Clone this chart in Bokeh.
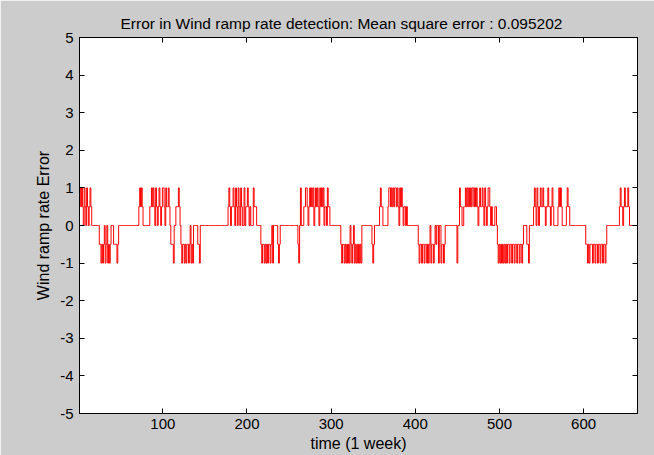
from bokeh.plotting import figure
from bokeh.models import LinearAxis, FixedTicker, Range1d
from bokeh.embed import file_html
from bokeh.resources import INLINE

title_text = "Error in Wind ramp rate detection: Mean square error : 0.095202"
x_label = "time (1 week)"
y_label = "Wind ramp rate Error"
x_ticks = [100, 200, 300, 400, 500, 600]
y_ticks = [-5, -4, -3, -2, -1, 0, 1, 2, 3, 4, 5]

error = [
    0.5, 1, 0.5, 1, 0.5, 0, 1, 0.5, 0, 1,
    0.5, 0, 0.5, 1, 0.5, 0, 0, 0, 0, 0,
    0, 0, 0, 0, -0.5, -0.5, -1, -0.5, -1, -0.5,
    0, -1, -0.5, 0, -1, -0.5, -1, -0.5, 0, 0,
    0, -0.5, -0.5, -0.5, -0.5, -1, -0.5, 0, 0, 0,
    0, 0, 0, 0, 0, 0, 0, 0, 0, 0,
    0, 0, 0, 0, 0, 0, 0, 0, 0, 0,
    0, 0.5, 1, 0.5, 1, 0.5, 0, 0, 0, 0,
    0, 0, 0, 0, 0.5, 0.5, 1, 0.5, 1, 0.5,
    0, 1, 0.5, 0, 0.5, 1, 0.5, 0, 0.5, 1,
    1, 0.5, 0, 1, 0.5, 0.5, 1, 0.5, 0, -0.5,
    -0.5, -0.5, -1, 0, 0, 0.5, 0.5, 0.5, 1, 0.5,
    0, -0.5, -1, -0.5, -0.5, -1, -0.5, -1, -0.5, -0.5,
    -1, -0.5, 0, -1, -0.5, -1, 0, 0, 0, 0,
    0, -0.5, -0.5, -1, 0, 0, 0, 0, 0, 0,
    0, 0, 0, 0, 0, 0, 0, 0, 0, 0,
    0, 0, 0, 0, 0, 0, 0, 0, 0, 0,
    0, 0, 0, 0, 0, 0, 0, 0.5, 1, 0.5,
    0, 0.5, 0.5, 1, 0.5, 0, 1, 0.5, 0, 1,
    0.5, 0, 1, 0.5, 0, 0, 1, 0, 0.5, 0.5,
    1, 0.5, 0, 0.5, 0, 0, 0, 1, 0.5, 0.5,
    0.5, 0, 0, 0, 0, 0, -0.5, -1, -0.5, -0.5,
    -1, -0.5, -1, -0.5, -1, -0.5, -0.5, -1, -0.5, 0,
    -1, 0, 0, 0, 0, 0, -0.5, -1, -0.5, 0,
    0, 0, 0, 0, 0, 0, 0, 0, 0, 0,
    0, 0, 0, 0, 0, 0, 0, 0, 0, 0,
    -0.5, -1, 0, 1, 0, 0, 0, 0.5, 0.5, 1,
    1, 0.5, 0, 0.5, 1, 0.5, 1, 0.5, 1, 0,
    0.5, 1, 0.5, 1, 0.5, 0, 1, 0.5, 1, 0.5,
    1, 0, 0.5, 0.5, 0, 1, 0.5, 0.5, 0, 0,
    0, 0, 0, 0, 0, 0, 0, 0, 0, 0,
    0, -0.5, -1, -0.5, -0.5, -1, -0.5, -1, -0.5, -1,
    -0.5, -1, 0, -0.5, -1, -0.5, 0, -1, -0.5, -1,
    -0.5, -1, -0.5, -1, -0.5, -1, 0, 0, 0, 0,
    0, 0, 0, 0, 0, 0, 0, 0, -0.5, -1,
    -0.5, 0, 0, 0, 0, 0, 0, 0.5, 1, 0.5,
    0.5, 0, 0, 0, 0, 0, 0, 0.5, 1, 1,
    0.5, 1, 0.5, 1, 0.5, 1, 1, 0.5, 1, 0.5,
    0, 1, 0.5, 1, 0.5, 0, 0.5, 0.5, 0, 0.5,
    0, 0, 0, 0, 0, 0, 0, 0, 0, 0,
    0, 0, 0, -0.5, -1, -0.5, -0.5, -1, -0.5, -0.5,
    -1, -0.5, -0.5, -1, -0.5, -1, -0.5, 0, -1, -0.5,
    -0.5, -1, -0.5, 0, -0.5, 0, 0, -1, 0, 0,
    -1, -0.5, -0.5, -1, -0.5, 0, 0, 0, 0, 0,
    0, 0, 0, 0, 0, 0, 0, 0, 0, -1,
    0, 0, 1, 0.5, 0.5, 0, 0, 0.5, 0.5, 1,
    0.5, 1, 0.5, 1, 0.5, 1, 0.5, 1, 1, 0.5,
    1, 0.5, 1, 0.5, 0, 0.5, 1, 0.5, 0.5, 1,
    0.5, 0, 1, 0.5, 0, 0.5, 1, 1, 0.5, 0,
    0.5, 0, 0, 0, 0.5, 0.5, 0, -0.5, -1, -0.5,
    -1, -0.5, -1, -0.5, -1, -0.5, -1, -0.5, -1, -0.5,
    -0.5, -1, -0.5, -0.5, -1, -0.5, -0.5, -1, -0.5, -0.5,
    -1, -0.5, -0.5, -1, -0.5, -0.5, -1, -0.5, 0, 0,
    0, 0, -0.5, -0.5, -1, 0, 0, 0, 0, 0,
    0.5, 1, 0.5, 0, 1, 0.5, 0, 0.5, 1, 0.5,
    0.5, 1, 0.5, 0.5, 0, 0.5, 0.5, 1, 0.5, 0.5,
    0, 0.5, 1, 0.5, 0, 0, 0, 0, 0, 0.5,
    1, 0.5, 1, 0.5, 0, 0, 0, 0, 0, 0.5,
    1, 0.5, 0.5, 0, 0, 0, 0, 0, 0, 0,
    0, 0, 0, 0, 0, 0, 0, 0, 0, 0,
    0, 0, -0.5, -0.5, -1, -0.5, -1, -0.5, -0.5, -0.5,
    -1, -0.5, -0.5, -1, -0.5, -0.5, -1, -0.5, -0.5, -1,
    -0.5, -0.5, -1, -0.5, -0.5, -1, -0.5, 0, 0, 0,
    0, 0, 0, 0, 0, 0, 0, 0, 0, 0,
    0, 0, 0.5, 1, 0.5, 0.5, 0, 0.5, 1, 0.5,
    0.5, 0.5, 1, 0.5, 0, 0, 0, 0, 0, 0,
    0, 0, 0, 0,
]
time = list(range(1, len(error) + 1))

FONT = "Liberation Sans"

p = figure(
    frame_width=558, frame_height=376,
    min_border_left=79, min_border_right=17, min_border_top=37, min_border_bottom=42,
    x_range=Range1d(time[0], time[-1]), y_range=Range1d(y_ticks[0], y_ticks[-1]),
    output_backend="svg", toolbar_location=None,
    title=title_text,
)
p.border_fill_color = "#CCCCCC"
p.background_fill_color = "white"
p.outline_line_color = "black"
p.outline_line_width = 1
p.grid.visible = False

p.title.align = "left"
p.title.text_font = FONT
p.title.text_font_size = "15.5px"
p.title.text_font_style = "normal"
p.title.text_color = "black"
p.title.offset = 41
p.title.standoff = 12

p.step(time, error, mode="center", line_color="#FF0000", line_width=1)

for ax in (p.xaxis[0], p.yaxis[0]):
    ax.major_tick_in = 5
    ax.major_tick_out = 0
    ax.minor_tick_in = 0
    ax.minor_tick_out = 0
    ax.axis_line_color = "black"
    ax.major_tick_line_color = "black"
    ax.major_label_text_font = FONT
    ax.major_label_text_font_size = "15px"
    ax.major_label_text_color = "black"
    ax.axis_label_text_font = FONT
    ax.axis_label_text_font_size = "16px"
    ax.axis_label_text_font_style = "normal"
    ax.axis_label_text_color = "black"

p.xaxis[0].ticker = FixedTicker(ticks=x_ticks)
p.yaxis[0].ticker = FixedTicker(ticks=y_ticks)
p.yaxis[0].major_label_overrides = {t: str(t) for t in y_ticks}
p.xaxis[0].axis_label = x_label
p.yaxis[0].axis_label = y_label
p.xaxis[0].major_label_standoff = 5
p.xaxis[0].axis_label_standoff = 3
p.yaxis[0].major_label_standoff = 6
p.yaxis[0].axis_label_standoff = 5

top = LinearAxis(ticker=FixedTicker(ticks=x_ticks))
right = LinearAxis(ticker=FixedTicker(ticks=y_ticks))
top.major_label_overrides = {t: "" for t in x_ticks}
right.major_label_overrides = {t: "" for t in y_ticks}
for ax in (top, right):
    ax.major_tick_in = 5
    ax.major_tick_out = 0
    ax.minor_tick_in = 0
    ax.minor_tick_out = 0
    ax.major_label_standoff = 0
    ax.axis_line_color = "black"
    ax.major_tick_line_color = "black"
p.add_layout(top, "above")
p.add_layout(right, "right")

open("out.html", "w").write(file_html(p, INLINE))
